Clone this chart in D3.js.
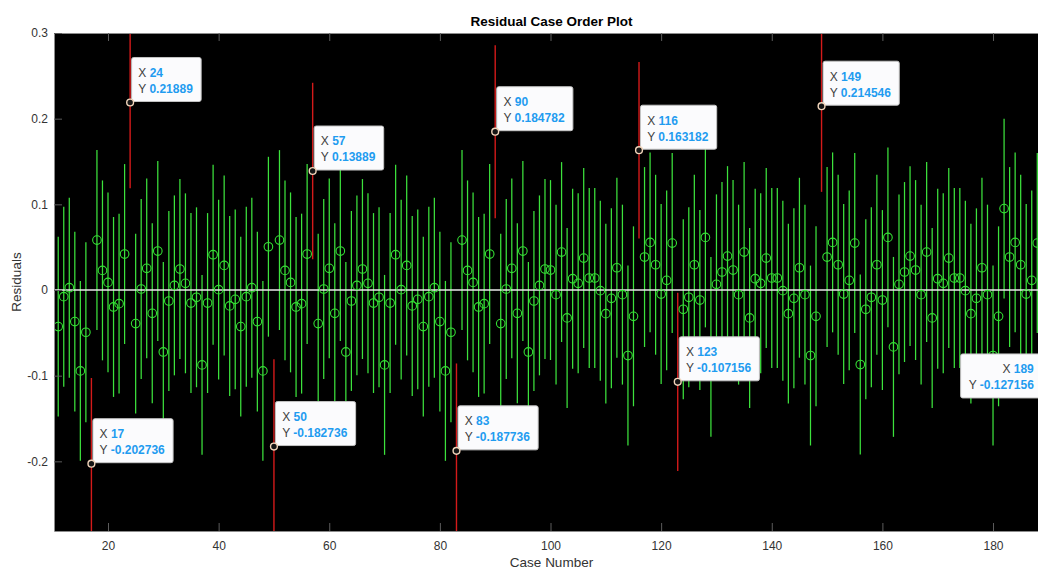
<!DOCTYPE html>
<html>
<head>
<meta charset="utf-8">
<script src="https://cdn.jsdelivr.net/npm/d3@7"></script>
<style>
  body { margin: 0; background: #fff; }
  svg { display: block; font-family: "Liberation Sans", Arial, sans-serif; }
  text { white-space: pre; }
</style>
</head>
<body>
<svg id="chart" width="1038" height="568"></svg>
<script>
// residuals, one per case, starting at case 11
var firstCase = 11;
var residuals = [
  // 11-21
  -0.0427, -0.0078, 0.0027, -0.0369, -0.0944, -0.0493, -0.202736, 0.0583, 0.0229, 0.0089, -0.0198,
  // 22-32
  -0.0159, 0.0420, 0.21889, -0.0392, 0.0012, 0.0253, -0.0272, 0.0455, -0.0723, -0.0128, 0.0054,
  // 33-43
  0.0245, 0.0078, -0.0152, -0.0085, -0.0874, -0.0152, 0.0412, 0.0004, 0.0287, -0.0186, -0.0109,
  // 44-54
  -0.0427, -0.0078, 0.0027, -0.0369, -0.0944, 0.0505, -0.182736, 0.0583, 0.0229, 0.0089, -0.0198,
  // 55-65
  -0.0159, 0.0420, 0.13889, -0.0392, 0.0012, 0.0253, -0.0272, 0.0455, -0.0723, -0.0128, 0.0054,
  // 66-76
  0.0245, 0.0078, -0.0152, -0.0085, -0.0874, -0.0152, 0.0412, 0.0004, 0.0287, -0.0186, -0.0109,
  // 77-87
  -0.0427, -0.0078, 0.0027, -0.0369, -0.0944, -0.0493, -0.187736, 0.0583, 0.0229, 0.0089, -0.0198,
  // 88-98
  -0.0159, 0.0420, 0.184782, -0.0392, 0.0012, 0.0253, -0.0272, 0.0455, -0.0723, -0.0128, 0.0054,
  // 99-109
  0.0245, 0.0233, -0.0054, 0.0443, -0.0326, 0.0132, 0.0078, 0.0373, 0.0140, 0.0140, -0.0008,
  // 110-120
  -0.0276, -0.0097, 0.0260, -0.0054, -0.0765, -0.0307, 0.163182, 0.0385, 0.0556, 0.0295, -0.0047,
  // 121-131
  0.0113, 0.0548, -0.107156, -0.0225, -0.0085, 0.0295, -0.0117, 0.0614, -0.0664, 0.0066, 0.0210,
  // 132-142
  0.0396, 0.0233, -0.0054, 0.0443, -0.0326, 0.0132, 0.0078, 0.0373, 0.0140, 0.0140, -0.0008,
  // 143-153
  -0.0276, -0.0097, 0.0260, -0.0054, -0.0765, -0.0307, 0.214546, 0.0385, 0.0556, 0.0295, -0.0047,
  // 154-164
  0.0113, 0.0548, -0.0870, -0.0225, -0.0085, 0.0295, -0.0117, 0.0614, -0.0664, 0.0066, 0.0210,
  // 165-175
  0.0396, 0.0233, -0.0054, 0.0443, -0.0326, 0.0132, 0.0078, 0.0373, 0.0140, 0.0140, -0.0008,
  // 176-186
  -0.0276, -0.0097, 0.0260, -0.0054, -0.0765, -0.0307, 0.0950, 0.0385, 0.0556, 0.0295, -0.0047,
  // 187-189
  0.0113, 0.0548, -0.127156
];

// half width of the interval drawn around each residual
var intervalHalfWidth = 0.105;
var halfWidthOverrides = { 17: 0.100, 24: 0.100, 50: 0.102, 57: 0.103, 83: 0.102,
                           90: 0.101, 116: 0.103, 123: 0.104, 149: 0.100, 189: 0.102 };

// cases with a data tip
var tipCases = [17, 24, 50, 57, 83, 90, 116, 123, 149, 189];

var xTicks = [20, 40, 60, 80, 100, 120, 140, 160, 180];
var yTicks = [-0.2, -0.1, 0, 0.1, 0.2, 0.3];
var xLimits = [10.237, 190.12];
var yLimits = [-0.2813, 0.3];

var W = 1038, H = 568;
var plotLeft = 54, plotTop = 33, plotRight = 1049, plotBottom = 531;

var svg = d3.select("#chart");

var x = d3.scaleLinear().domain(xLimits).range([plotLeft, plotRight]);
var y = d3.scaleLinear().domain(yLimits).range([plotBottom, plotTop]);

var data = residuals.map(function (r, i) {
    var c = firstCase + i;
    var hw = halfWidthOverrides[c] !== undefined ? halfWidthOverrides[c] : intervalHalfWidth;
    return { c: c, r: r, lo: r - hw, hi: r + hw };
});
// interval not containing zero -> flagged red
function flagged(d) { return d.lo > 0 || d.hi < 0; }

svg.append("rect")
    .attr("x", plotLeft).attr("y", plotTop)
    .attr("width", plotRight - plotLeft).attr("height", plotBottom - plotTop)
    .attr("fill", "#000");

svg.append("clipPath").attr("id", "plotclip")
  .append("rect")
    .attr("x", plotLeft).attr("y", plotTop)
    .attr("width", plotRight - plotLeft).attr("height", plotBottom - plotTop);

var plot = svg.append("g").attr("clip-path", "url(#plotclip)");

plot.selectAll("line.ci")
  .data(data)
  .join("line")
    .attr("class", "ci")
    .attr("x1", d => x(d.c)).attr("x2", d => x(d.c))
    .attr("y1", d => y(d.lo)).attr("y2", d => y(d.hi))
    .attr("stroke", d => flagged(d) ? "#d41a1a" : "#3ce23c")
    .attr("stroke-width", d => flagged(d) ? 1.4 : 1.25);

plot.append("line")
    .attr("x1", plotLeft).attr("x2", plotRight)
    .attr("y1", y(0)).attr("y2", y(0))
    .attr("stroke", "#e8e8e8")
    .attr("stroke-width", 1.4);

plot.selectAll("circle.res")
  .data(data.filter(d => !flagged(d)))
  .join("circle")
    .attr("class", "res")
    .attr("cx", d => x(d.c)).attr("cy", d => y(d.r))
    .attr("r", 4.3)
    .attr("fill", "none")
    .attr("stroke", "#34e034")
    .attr("stroke-width", 1.1);

// axes
var fmt = d3.formatLocale({ decimal: ".", thousands: ",", grouping: [3], currency: ["", ""], minus: "-" });
var yFmt = function (d) { return d === 0 ? "0" : fmt.format(".1f")(d); };

function styleAxis(g) {
    g.select(".domain").attr("stroke", "#8c8c8c");
    g.selectAll(".tick line").attr("stroke", "#5c5c5c");
    g.selectAll(".tick text").attr("fill", "#333").attr("font-size", 12)
        .attr("font-family", "Liberation Sans, Arial, sans-serif");
}

svg.append("g")
    .attr("transform", "translate(0," + plotBottom + ")")
    .call(d3.axisBottom(x).tickValues(xTicks).tickSize(-8).tickSizeOuter(0).tickPadding(10.5))
    .call(styleAxis);

svg.append("g")
    .attr("transform", "translate(0," + plotTop + ")")
    .call(d3.axisTop(x).tickValues(xTicks).tickSize(-8).tickSizeOuter(0).tickFormat(""))
    .call(styleAxis);

svg.append("g")
    .attr("transform", "translate(" + plotLeft + ",0)")
    .call(d3.axisLeft(y).tickValues(yTicks).tickSize(-8).tickSizeOuter(0).tickPadding(6).tickFormat(yFmt))
    .call(styleAxis);

// titles
svg.append("text")
    .attr("x", (plotLeft + plotRight) / 2).attr("y", 26)
    .attr("text-anchor", "middle")
    .attr("font-size", 13.5).attr("font-weight", "bold").attr("fill", "#000")
    .text("Residual Case Order Plot");

svg.append("text")
    .attr("x", (plotLeft + plotRight) / 2).attr("y", 566.5)
    .attr("text-anchor", "middle")
    .attr("font-size", 13.5).attr("fill", "#333")
    .text("Case Number");

svg.append("text")
    .attr("transform", "translate(20.5," + ((plotTop + plotBottom) / 2) + ") rotate(-90)")
    .attr("text-anchor", "middle")
    .attr("font-size", 13.5).attr("fill", "#333")
    .text("Residuals");

// data tips
tipCases.forEach(function (c) {
    var d = data.find(e => e.c === c);
    var px = x(c), py = y(d.r);
    var g = svg.append("g");
    var box = g.append("rect");
    var rows = [["X", String(c)], ["Y", String(d.r)]];
    var texts = rows.map(function (row, k) {
        var t = g.append("text").attr("font-size", 12).attr("y", 19.3 + k * 16);
        t.append("tspan").attr("fill", "#404040").text(row[0] + " ");
        t.append("tspan").attr("fill", "#1f9cf0").attr("font-weight", "bold").text(row[1]);
        return t;
    });
    var w = d3.max(texts, t => t.node().getComputedTextLength()) + 15;
    var h = 44;
    var flip = px + 1.5 + w > W;
    var bx = flip ? px - 2 - w : px + 1.5;
    var by = py - 1 - h;
    g.attr("transform", "translate(" + bx + "," + by + ")");
    box.attr("width", w).attr("height", h).attr("rx", 2)
        .attr("fill", "#fbfbfd").attr("stroke", "#c4c4c4").attr("stroke-width", 1);
    texts.forEach(function (t) {
        if (flip) t.attr("text-anchor", "end").attr("x", w - 7);
        else t.attr("x", 6.7);
    });
    svg.append("circle")
        .attr("cx", px).attr("cy", py).attr("r", 3.4)
        .attr("fill", "#151515").attr("stroke", "#f2d6bc").attr("stroke-width", 1.4);
});
</script>
</body>
</html>
